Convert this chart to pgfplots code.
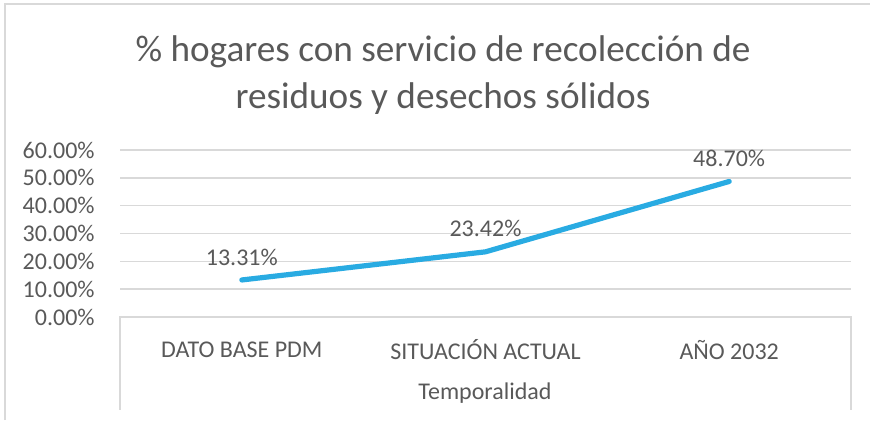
\documentclass[border=0pt]{standalone}
\usepackage{fontspec}
\setmainfont{Carlito}
\usepackage{pgfplots}
\pgfplotsset{compat=1.18}
\definecolor{txt}{HTML}{595959}
\definecolor{gridc}{HTML}{D9D9D9}
\definecolor{linec}{HTML}{29ABE2}
\begin{document}
\begin{tikzpicture}
\path[use as bounding box] (0,0) rectangle (435pt,210pt);
\draw[gridc, line width=0.75pt] (2.5pt,0) -- (2.5pt,208pt) -- (435pt,208pt);
\node[txt, font=\fontsize{18.6}{22.5}\selectfont, align=center] at (221.5pt,172.5pt) {\% hogares con servicio de recolección de\\[1pt]residuos y desechos sólidos};
\node[txt, font=\fontsize{12}{14}\selectfont] at (242.5pt,13.5pt) {Temporalidad};
\begin{axis}[
  at={(60pt,51.5pt)}, anchor=south west,
  scale only axis, width=365.5pt, height=83.5pt,
  xmin=-0.5, xmax=2.5, ymin=0, ymax=60,
  axis line style={draw=none},
  clip=false,
  xtick={0,1,2},
  xticklabels={DATO BASE PDM, SITUACIÓN ACTUAL, AÑO 2032},
  ytick={0,10,20,30,40,50,60},
  yticklabels={0.00\%,10.00\%,20.00\%,30.00\%,40.00\%,50.00\%,60.00\%},
  major tick length=0pt,
  xmajorgrids=false, ymajorgrids=true,
  major grid style={color=gridc, line width=0.75pt},
  tick label style={txt, font=\fontsize{12}{14}\selectfont},
  yticklabel style={anchor=east, inner sep=0pt, xshift=-12.5pt},
  xticklabel style={anchor=center, inner sep=0pt, yshift=-16.5pt},
  /pgf/number format/assume math mode=true,
]
\draw[gridc, line width=0.75pt] (axis cs:-0.5,-33.4) -- (axis cs:-0.5,0) -- (axis cs:2.5,0) -- (axis cs:2.5,-33.4);
\addplot[linec, line width=2.6pt, line cap=round,
  nodes near coords={\pgfmathprintnumber[fixed,fixed zerofill,precision=2]{\pgfplotspointmeta}\%},
  every node near coord/.style={txt, font=\fontsize{12}{14}\selectfont, anchor=center, yshift=11.5pt}]
  coordinates {(0,13.31) (1,23.42) (2,48.70)};
\end{axis}
\end{tikzpicture}
\end{document}
